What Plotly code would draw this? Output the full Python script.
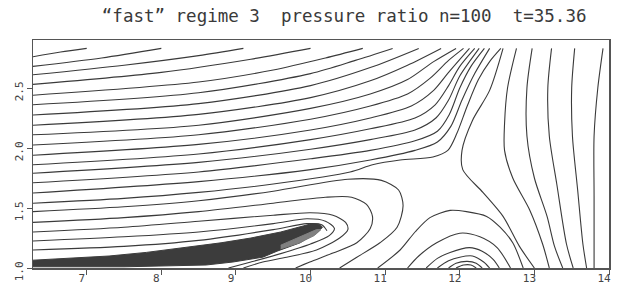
import plotly.graph_objects as go

TITLE = "\u201cfast\u201d regime 3\u00a0\u00a0pressure ratio n=100\u00a0\u00a0t=35.36"
X_TICKS = [7, 8, 9, 10, 11, 12, 13, 14]
Y_TICKS = [1.0, 1.5, 2.0, 2.5]
Y_TICK_LABELS = ["1.0", "1.5", "2.0", "2.5"]

# streamlines that leave through the top (left-to-right family)
upper_x = [
    [6.28, 6.65, 7.0],
    [6.28, 7.2, 8.0],
    [6.28, 7.5, 8.5, 9.1],
    [6.28, 8.0, 9.2, 10.0],
    [6.28, 8.5, 9.5, 10.2, 10.7],
    [6.28, 8.5, 10.0, 10.6, 11.1],
    [6.28, 8.5, 10.0, 10.8, 11.45],
    [6.28, 8.5, 10.0, 10.8, 11.3, 11.75],
    [6.28, 8.5, 10.0, 10.8, 11.3, 11.65, 11.95],
    [6.28, 8.5, 10.0, 10.8, 11.3, 11.6, 11.85, 12.05],
    [6.28, 8.5, 10.0, 10.8, 11.35, 11.65, 11.85, 12.13],
    [6.28, 8.5, 10.0, 10.8, 11.4, 11.67, 11.85, 12.0, 12.2],
    [6.28, 8.5, 10.0, 10.8, 11.4, 11.68, 11.85, 12.0, 12.26],
    [6.28, 8.5, 10.0, 10.8, 11.4, 11.7, 11.86, 12.0, 12.15, 12.33],
    [6.28, 8.5, 10.0, 10.8, 11.4, 11.7, 11.88, 12.03, 12.2, 12.4],
]
upper_y = [
    [2.76, 2.80, 2.83],
    [2.68, 2.75, 2.83],
    [2.61, 2.69, 2.77, 2.83],
    [2.53, 2.63, 2.74, 2.83],
    [2.44, 2.55, 2.65, 2.75, 2.83],
    [2.36, 2.46, 2.62, 2.73, 2.83],
    [2.275, 2.37, 2.52, 2.67, 2.83],
    [2.19, 2.28, 2.42, 2.56, 2.69, 2.83],
    [2.11, 2.19, 2.33, 2.45, 2.57, 2.72, 2.83],
    [2.025, 2.11, 2.24, 2.35, 2.45, 2.58, 2.73, 2.83],
    [1.94, 2.03, 2.15, 2.25, 2.35, 2.48, 2.63, 2.83],
    [1.86, 1.95, 2.07, 2.16, 2.25, 2.36, 2.52, 2.68, 2.83],
    [1.79, 1.88, 1.99, 2.07, 2.15, 2.25, 2.40, 2.60, 2.83],
    [1.71, 1.80, 1.91, 1.98, 2.06, 2.14, 2.28, 2.50, 2.68, 2.83],
    [1.625, 1.72, 1.82, 1.90, 1.98, 2.05, 2.18, 2.40, 2.62, 2.83],
]

# separatrix branch coming in from the left and turning up at the saddle
sep_left_x = [6.28, 7.5, 8.5, 9.5, 10.53, 10.83, 11.2, 11.64, 11.84, 11.96, 12.1, 12.25, 12.4, 12.55]
sep_left_y = [1.54, 1.58, 1.63, 1.70, 1.80, 1.86, 1.90, 1.925, 1.98, 2.12, 2.35, 2.57, 2.72, 2.83]

# right-hand family (top to bottom)
right_x = [
    [12.58, 12.4, 12.17, 12.03, 12.04, 12.31, 12.58, 12.8, 13.0],
    [12.76, 12.64, 12.6, 12.6, 12.71, 12.94, 13.11, 13.2],
    [12.97, 12.9, 12.9, 13.0, 13.17, 13.27, 13.38],
    [13.23, 13.18, 13.2, 13.3, 13.43, 13.52],
    [13.54, 13.5, 13.51, 13.58, 13.65, 13.7],
    [13.92, 13.85, 13.8, 13.8, 13.8],
]
right_y = [
    [2.83, 2.48, 2.23, 1.98, 1.82, 1.63, 1.43, 1.18, 1.0],
    [2.83, 2.5, 2.2, 1.98, 1.75, 1.48, 1.2, 1.0],
    [2.83, 2.5, 2.1, 1.75, 1.43, 1.18, 1.0],
    [2.83, 2.5, 2.1, 1.7, 1.2, 1.0],
    [2.83, 2.5, 2.1, 1.65, 1.2, 1.0],
    [2.83, 2.5, 2.1, 1.6, 1.0],
]

# recirculating lines wrapping round the vortex
loop_x = [
    [6.28, 7.5, 8.5, 9.5, 10.5, 10.95, 11.18, 11.24, 11.16, 10.93, 10.62, 10.39],
    [6.28, 7.5, 8.5, 9.5, 10.2, 10.55, 10.75, 10.83, 10.8, 10.62, 10.3, 9.99, 9.8],
    [6.28, 7.5, 8.5, 9.5, 10.0, 10.3, 10.47, 10.5, 10.39, 10.08, 9.68, 9.36, 9.1],
    [6.28, 7.5, 8.5, 9.5, 9.95, 10.2, 10.32, 10.25, 10.0, 9.6, 9.2, 8.9],
    [6.28, 7.5, 8.5, 9.5, 9.95, 10.15, 10.22],
]
loop_y = [
    [1.47, 1.51, 1.56, 1.64, 1.74, 1.73, 1.65, 1.52, 1.34, 1.21, 1.09, 1.0],
    [1.38, 1.42, 1.47, 1.54, 1.59, 1.59, 1.53, 1.43, 1.33, 1.21, 1.125, 1.05, 1.0],
    [1.30, 1.34, 1.39, 1.44, 1.46, 1.44, 1.38, 1.32, 1.25, 1.15, 1.09, 1.05, 1.0],
    [1.225, 1.26, 1.30, 1.37, 1.41, 1.39, 1.33, 1.27, 1.2, 1.12, 1.05, 1.0],
    [1.15, 1.18, 1.23, 1.32, 1.37, 1.36, 1.31],
]

# nested arcs above the wall near x = 12
arc_x = [
    [10.9, 11.2, 11.4, 11.6, 11.87, 12.09, 12.36, 12.54, 12.71, 12.85],
    [11.3, 11.45, 11.69, 12.0, 12.27, 12.5, 12.68],
    [11.55, 11.7, 11.87, 12.13, 12.3, 12.45, 12.53],
    [11.7, 11.85, 12.0, 12.17, 12.32, 12.4],
    [11.85, 11.95, 12.1, 12.22, 12.3],
    [11.95, 12.05, 12.15, 12.22],
]
arc_y = [
    [1.0, 1.15, 1.3, 1.42, 1.48, 1.47, 1.43, 1.34, 1.21, 1.0],
    [1.0, 1.1, 1.21, 1.29, 1.26, 1.17, 1.0],
    [1.0, 1.08, 1.13, 1.17, 1.14, 1.07, 1.0],
    [1.0, 1.06, 1.09, 1.1, 1.05, 1.0],
    [1.0, 1.04, 1.055, 1.04, 1.0],
    [1.0, 1.025, 1.025, 1.0],
]

# dense vortex core (dark) and its lighter tip
core_x = [6.28, 6.8, 7.3, 7.8, 8.3, 8.8, 9.2, 9.6, 9.9, 10.02, 10.12, 10.16, 10.1, 9.86, 9.55, 9.36, 8.96, 8.6, 7.5, 6.28]
core_y = [1.065, 1.08, 1.10, 1.13, 1.17, 1.21, 1.25, 1.30, 1.35, 1.37, 1.365, 1.34, 1.30, 1.21, 1.14, 1.09, 1.05, 1.025, 1.01, 1.01]
tip_x = [9.6, 9.85, 10.05, 10.14, 10.08, 9.85, 9.6]
tip_y = [1.16, 1.21, 1.27, 1.32, 1.32, 1.26, 1.19]

LINE = dict(color="#3a3a3a", width=1.1, shape="spline", smoothing=0.8)

fig = go.Figure()

def add_family(xs, ys):
    for xx, yy in zip(xs, ys):
        fig.add_trace(go.Scatter(x=xx, y=yy, mode="lines", line=LINE,
                                 hoverinfo="skip", showlegend=False))

add_family(upper_x, upper_y)
add_family([sep_left_x], [sep_left_y])
add_family(right_x, right_y)
add_family(loop_x, loop_y)
add_family(arc_x, arc_y)

fig.add_trace(go.Scatter(x=core_x, y=core_y, mode="lines", fill="toself",
                         fillcolor="#3c3c3c", line=dict(color="#3c3c3c", width=1),
                         hoverinfo="skip", showlegend=False))
fig.add_trace(go.Scatter(x=tip_x, y=tip_y, mode="lines", fill="toself",
                         fillcolor="#808080", line=dict(color="#808080", width=1),
                         hoverinfo="skip", showlegend=False))

axis_common = dict(showgrid=False, zeroline=False, showline=True, mirror=True,
                   linecolor="#555555", linewidth=1.5, ticks="outside", ticklen=5,
                   tickcolor="#555555", automargin=False,
                   tickfont=dict(family="DejaVu Sans Mono", size=11, color="#444444"))

fig.update_layout(
    width=619, height=285,
    margin=dict(l=33, r=10, t=40, b=17),
    paper_bgcolor="white", plot_bgcolor="white",
    hovermode=False,
    title=dict(text=TITLE, x=0.556, xref="container", xanchor="center",
               y=0.944, yref="container", yanchor="middle",
               font=dict(family="DejaVu Sans Mono", size=17.5, color="#3a3a3a")),
    xaxis=dict(range=[6.28, 14], tickvals=X_TICKS, ticktext=[str(v) for v in X_TICKS],
               ticklabelshift=-5, ticklabelstandoff=-6, **axis_common),
    yaxis=dict(range=[1.0, 2.9], tickvals=Y_TICKS, ticktext=Y_TICK_LABELS, tickangle=-90,
               ticklabelshift=5, ticklabelstandoff=-1, **axis_common),
)

fig.write_html("out.html", config={"displayModeBar": False, "staticPlot": True},
               post_script="document.body.style.margin='0';")
